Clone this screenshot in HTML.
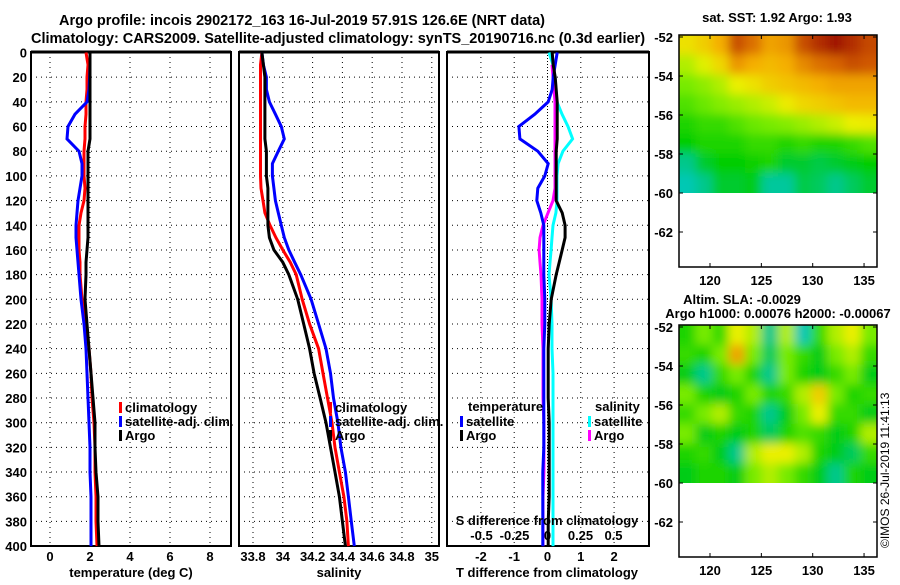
<!DOCTYPE html>
<html><head><meta charset="utf-8">
<style>
body{margin:0;background:#fff;}
svg text{font-family:"Liberation Sans",Arial,sans-serif;font-weight:bold;font-size:13px;fill:#000;}
</style></head>
<body>
<svg id="fig" width="900" height="580" viewBox="0 0 900 580" xmlns="http://www.w3.org/2000/svg">
<defs>
<filter id="blur" x="0" y="0" width="100%" height="100%"><feGaussianBlur stdDeviation="5"/></filter>
<clipPath id="clipSST"><rect x="679" y="35" width="198" height="158"/></clipPath>
<clipPath id="clipSLA"><rect x="679" y="325" width="198" height="158"/></clipPath>
</defs>
<text x="302" y="25" text-anchor="middle" style="font-size:14.5px">Argo profile: incois 2902172_163 16-Jul-2019 57.91S 126.6E (NRT data)</text>
<text x="338" y="43" text-anchor="middle" style="font-size:14.5px">Climatology: CARS2009. Satellite-adjusted climatology: synTS_20190716.nc (0.3d earlier)</text>
<g id="g1"></g>
<g id="g2"></g>
<g id="g3"></g>
<g id="g4"></g>
<g id="g5"></g>
<text x="0" y="0" transform="translate(889,548) rotate(-90)" style="font-weight:normal;font-size:12px">©IMOS 26-Jul-2019 11:41:13</text>
</svg>
<script>
const depths=[0,10,20,30,40,50,60,70,80,90,100,110,120,130,140,150,160,170,180,200,220,240,260,280,300,320,340,360,380,400];
const tArgo=[2.0,2.0,2.0,2.0,2.0,2.0,2.0,2.0,1.9,1.9,1.9,1.9,1.9,1.9,1.9,1.9,1.85,1.8,1.8,1.75,1.85,1.95,2.05,2.15,2.25,2.25,2.3,2.4,2.4,2.45];
const tClim=[1.8,1.9,1.85,1.85,1.8,1.8,1.75,1.75,1.7,1.7,1.7,1.75,1.7,1.55,1.45,1.45,1.45,1.5,1.5,1.6,1.8,1.95,2.05,2.1,2.2,2.25,2.25,2.3,2.3,2.35];
const tSat=[2.0,2.0,1.98,1.95,1.85,1.25,0.9,0.85,1.45,1.6,1.6,1.5,1.4,1.35,1.3,1.3,1.35,1.4,1.45,1.55,1.7,1.8,1.85,1.9,1.95,2.0,2.0,2.05,2.05,2.05];
const sClim=[33.86,33.85,33.85,33.85,33.85,33.85,33.85,33.85,33.85,33.85,33.85,33.854,33.867,33.88,33.914,33.954,34.0,34.05,34.09,34.13,34.18,34.24,34.27,34.30,34.33,34.35,34.38,34.41,34.43,34.44];
const sArgo=[33.86,33.87,33.88,33.88,33.88,33.88,33.88,33.88,33.89,33.89,33.89,33.90,33.90,33.90,33.90,33.91,33.94,34.0,34.04,34.10,34.14,34.18,34.21,34.25,34.29,34.32,34.35,34.38,34.40,34.42];
const sSat=[33.86,33.87,33.89,33.89,33.91,33.95,33.99,34.01,33.97,33.93,33.93,33.94,33.95,33.97,33.99,34.01,34.04,34.08,34.12,34.19,34.24,34.29,34.32,34.34,34.37,34.39,34.42,34.44,34.46,34.48];
const dTsat=[0.29,0.23,0.17,0.14,0.02,-0.38,-0.86,-0.83,-0.29,0.02,-0.08,-0.29,-0.32,-0.2,-0.11,-0.11,-0.11,-0.11,-0.11,-0.08,-0.08,-0.11,-0.11,-0.11,-0.11,-0.11,-0.14,-0.14,-0.14,-0.14];
const dTargo=[0.14,0.17,0.23,0.26,0.29,0.29,0.29,0.29,0.26,0.26,0.26,0.26,0.26,0.44,0.53,0.53,0.44,0.35,0.26,0.11,0.05,0.02,0.02,0.02,0.05,0.05,0.05,0.05,0.02,0.02];
const dSsat=[0.011,0.042,0.057,0.064,0.072,0.11,0.155,0.19,0.117,0.08,0.072,0.072,0.072,0.064,0.042,0.034,0.027,0.019,0.011,0.027,0.034,0.034,0.042,0.042,0.042,0.042,0.042,0.042,0.042,0.042];
const dSargo=[0.027,0.034,0.042,0.049,0.057,0.057,0.057,0.057,0.057,0.057,0.057,0.057,0.042,0.004,-0.034,-0.057,-0.064,-0.057,-0.049,-0.042,-0.042,-0.034,-0.034,-0.034,-0.027,-0.027,-0.027,-0.034,-0.034,-0.034];
const depthTicks=[0,20,40,60,80,100,120,140,160,180,200,220,240,260,280,300,320,340,360,380,400];
const tTicks=[0,2,4,6,8];
const sTicks=[33.8,34,34.2,34.4,34.6,34.8,35];
const sTickLabels=["33.8","34","34.2","34.4","34.6","34.8","35"];
const dTTicks=[-2,-1,0,1,2];
const dSTicks=[-0.5,-0.25,0,0.25,0.5];
const dSTickLabels=["-0.5","-0.25","0","0.25","0.5"];
const sstGrid=[
[0.58,0.62,0.68,0.84,0.78,0.7,0.72,0.84,0.9,0.95,0.9,0.85],
[0.5,0.54,0.6,0.72,0.68,0.66,0.68,0.74,0.78,0.8,0.84,0.82],
[0.45,0.47,0.5,0.55,0.58,0.62,0.64,0.66,0.68,0.7,0.7,0.7],
[0.42,0.44,0.46,0.48,0.5,0.52,0.56,0.6,0.62,0.64,0.66,0.66],
[0.38,0.4,0.4,0.42,0.44,0.45,0.46,0.48,0.5,0.52,0.55,0.56],
[0.36,0.38,0.38,0.38,0.4,0.4,0.38,0.4,0.38,0.38,0.4,0.42],
[0.3,0.34,0.36,0.36,0.37,0.38,0.34,0.34,0.33,0.34,0.35,0.36],
[0.25,0.3,0.34,0.34,0.35,0.28,0.28,0.33,0.32,0.3,0.32,0.34]];
const slaGrid=[
[0.38,0.45,0.4,0.55,0.5,0.3,0.5,0.25,0.4,0.5,0.55,0.45],
[0.4,0.38,0.45,0.7,0.45,0.32,0.45,0.4,0.35,0.45,0.5,0.4],
[0.35,0.3,0.4,0.45,0.38,0.3,0.45,0.38,0.35,0.4,0.45,0.35],
[0.45,0.38,0.35,0.38,0.45,0.38,0.4,0.5,0.62,0.45,0.38,0.4],
[0.4,0.45,0.5,0.4,0.38,0.3,0.35,0.45,0.55,0.4,0.4,0.35],
[0.45,0.35,0.38,0.35,0.38,0.32,0.38,0.42,0.4,0.35,0.38,0.5],
[0.38,0.4,0.35,0.3,0.5,0.55,0.55,0.5,0.38,0.35,0.32,0.4],
[0.35,0.38,0.38,0.35,0.45,0.5,0.45,0.4,0.35,0.3,0.38,0.35]];
const NS="http://www.w3.org/2000/svg";
function mk(parent,tag,attrs){const e=document.createElementNS(NS,tag);for(const k in attrs)e.setAttribute(k,attrs[k]);parent.appendChild(e);return e;}
const yD=d=>52.5+d*1.234;
const plotTop=52,plotBot=546;
function frameAndGrid(g,x0,x1,gridXs,labelsLeft){
  for(const x of gridXs){const l=mk(g,'line',{x1:x,x2:x,y1:plotTop,y2:plotBot,stroke:'#000','stroke-width':1,'stroke-dasharray':'1,4'});
    
    }
  for(const d of depthTicks){const y=yD(d);const l=mk(g,'line',{x1:x0,x2:x1,y1:y,y2:y,stroke:'#000','stroke-width':1,'stroke-dasharray':'1,4'});
    
    
    if(labelsLeft){const t=mk(g,'text',{x:x0-4,y:y+5,'text-anchor':'end'});t.textContent=d;
      
      }}
  const r=mk(g,'rect',{x:x0,y:plotTop,width:x1-x0,height:plotBot-plotTop,fill:'none',stroke:'#000','stroke-width':2});
  
  
  mk(g,'line',{x1:x0,x2:x1,y1:plotTop,y2:plotTop,stroke:'#000','stroke-width':3});
}
function series(g,xs,xf,color,name,start){
  let pts=[];for(let i=start||0;i<depths.length;i++)pts.push(xf(xs[i]).toFixed(1)+','+yD(depths[i]).toFixed(1));
  const p=mk(g,'polyline',{points:pts.join(' '),fill:'none',stroke:color,'stroke-width':3,'stroke-linejoin':'miter'});
  
  
}
function legend(g,x,y,color,label){
  const r=mk(g,'rect',{x:x,y:y-9,width:3,height:11,fill:color});
  
  
  const t=mk(g,'text',{x:x+6,y:y+1});t.textContent=label;
  
  
}
function lbl(g,x,y,s,name,anchor){const t=mk(g,'text',{x:x,y:y,'text-anchor':anchor||'middle'});t.textContent=s;
  
  return t;}
// Panel 1
const g1=document.getElementById('g1');const xT=t=>50+20*t;
frameAndGrid(g1,31,231,tTicks.map(xT),true);
series(g1,tClim,xT,'#f00','temperature-climatology-line');
series(g1,tSat,xT,'#00f','temperature-satellite-line');
series(g1,tArgo,xT,'#000','temperature-argo-line');
tTicks.forEach(t=>lbl(g1,xT(t),561,t,'temperature-tick-label'));
lbl(g1,131,577,'temperature (deg C)','x-axis-title-temperature');
legend(g1,119,411,'#f00','climatology');legend(g1,119,425,'#00f','satellite-adj. clim.');legend(g1,119,439,'#000','Argo');
// Panel 2
const g2=document.getElementById('g2');const xS=s=>253+(s-33.8)*149;
frameAndGrid(g2,239,439,sTicks.map(xS),false);
series(g2,sClim,xS,'#f00','salinity-climatology-line');
series(g2,sSat,xS,'#00f','salinity-satellite-line');
series(g2,sArgo,xS,'#000','salinity-argo-line');
sTicks.forEach((s,i)=>lbl(g2,xS(s),561,sTickLabels[i],'salinity-tick-label'));
lbl(g2,339,577,'salinity','x-axis-title-salinity');
legend(g2,329,411,'#f00','climatology');legend(g2,329,425,'#00f','satellite-adj. clim.');legend(g2,329,439,'#000','Argo');
// Panel 3
const g3=document.getElementById('g3');const xDT=t=>547.5+33.3*t;const xDS=s=>547.5+132*s;
frameAndGrid(g3,447,649,dTTicks.filter(v=>v!==0).map(xDT),false);
mk(g3,'line',{x1:547.5,x2:547.5,y1:plotTop,y2:plotBot,stroke:'#000','stroke-width':1,'stroke-dasharray':'1,2'});
series(g3,dSsat,xDS,'#0ff','salinity-satellite-diff-line');
series(g3,dSargo,xDS,'#f0f','salinity-argo-diff-line',1);
series(g3,dTsat,xDT,'#00f','temperature-satellite-diff-line');
series(g3,dTargo,xDT,'#000','temperature-argo-diff-line');
lbl(g3,468,411,'temperature','legend-title-temperature','start');
legend(g3,460,425,'#00f','satellite');legend(g3,460,439,'#000','Argo');
lbl(g3,595,411,'salinity','legend-title-salinity','start');
legend(g3,588,425,'#0ff','satellite');legend(g3,588,439,'#f0f','Argo');
lbl(g3,547,525,'S difference from climatology','s-axis-title');
dSTicks.forEach((s,i)=>lbl(g3,xDS(s),540,dSTickLabels[i],'s-diff-tick-label'));
dTTicks.forEach(t=>lbl(g3,xDT(t),561,t,'t-diff-tick-label'));
lbl(g3,547,577,'T difference from climatology','x-axis-title-t-difference');
// Maps
function cmap(v){
  const stops=[[0.2,[0,200,220]],[0.3,[0,200,140]],[0.36,[0,205,0]],[0.45,[120,235,0]],[0.55,[235,240,0]],[0.68,[245,175,0]],[0.8,[215,100,0]],[0.95,[160,20,0]]];
  if(v<=stops[0][0])return 'rgb('+stops[0][1]+')';
  for(let i=1;i<stops.length;i++){if(v<=stops[i][0]){const a=stops[i-1],b=stops[i];const f=(v-a[0])/(b[0]-a[0]);
    return 'rgb('+a[1].map((c,k)=>Math.round(c+(b[1][k]-c)*f)).join(',')+')';}}
  return 'rgb('+stops[stops.length-1][1]+')';
}
function mapPanel(g,y0,grid,clip){
  const x0=679,w=198,h=158;
  const gg=mk(g,'g',{'clip-path':'url(#'+clip+')'});
  const inner=mk(gg,'g',{filter:'url(#blur)'});
  const rows=grid.length,cols=grid[0].length,cw=w/cols,ch=h/rows;
  mk(inner,'rect',{x:x0-10,y:y0-10,width:w+20,height:h+20,fill:cmap(grid[4][6])});
  for(let r=-1;r<=rows;r++)for(let c=-1;c<=cols;c++){
    const rr=Math.min(rows-1,Math.max(0,r)),cc=Math.min(cols-1,Math.max(0,c));
    const cell=mk(inner,'rect',{x:x0+c*cw,y:y0+r*ch,width:cw+0.5,height:ch+0.5,fill:cmap(grid[rr][cc])});
    
    
  }
  const fr=mk(g,'rect',{x:x0,y:y0,width:w,height:232,fill:'none',stroke:'#000','stroke-width':1.5});
  
  
  const lats=[-52,-54,-56,-58,-60,-62];
  lats.forEach(l=>{const y=y0+2+(-52-l)*19.5;lbl(g,673,y+5,l,'map-lat-label','end');
    mk(g,'line',{x1:x0,x2:x0+4,y1:y,y2:y,stroke:'#000'});mk(g,'line',{x1:x0+w-4,x2:x0+w,y1:y,y2:y,stroke:'#000'});});
  [120,125,130,135].forEach(l=>{const x=710+(l-120)*10.27;lbl(g,x,y0+250,l,'map-lon-label');
    mk(g,'line',{x1:x,x2:x,y1:y0+228,y2:y0+232,stroke:'#000'});mk(g,'line',{x1:x,x2:x,y1:y0,y2:y0+4,stroke:'#000'});});
}
const g4=document.getElementById('g4');
mapPanel(g4,35,sstGrid,'clipSST');
lbl(g4,777,22,'sat. SST: 1.92 Argo: 1.93','sst-map-title');
const g5=document.getElementById('g5');
mapPanel(g5,325,slaGrid,'clipSLA');
lbl(g5,742,304,'Altim. SLA: -0.0029','sla-map-title');
lbl(g5,778,318,'Argo h1000: 0.00076 h2000: -0.00067','sla-map-subtitle');
</script>
</body></html>
